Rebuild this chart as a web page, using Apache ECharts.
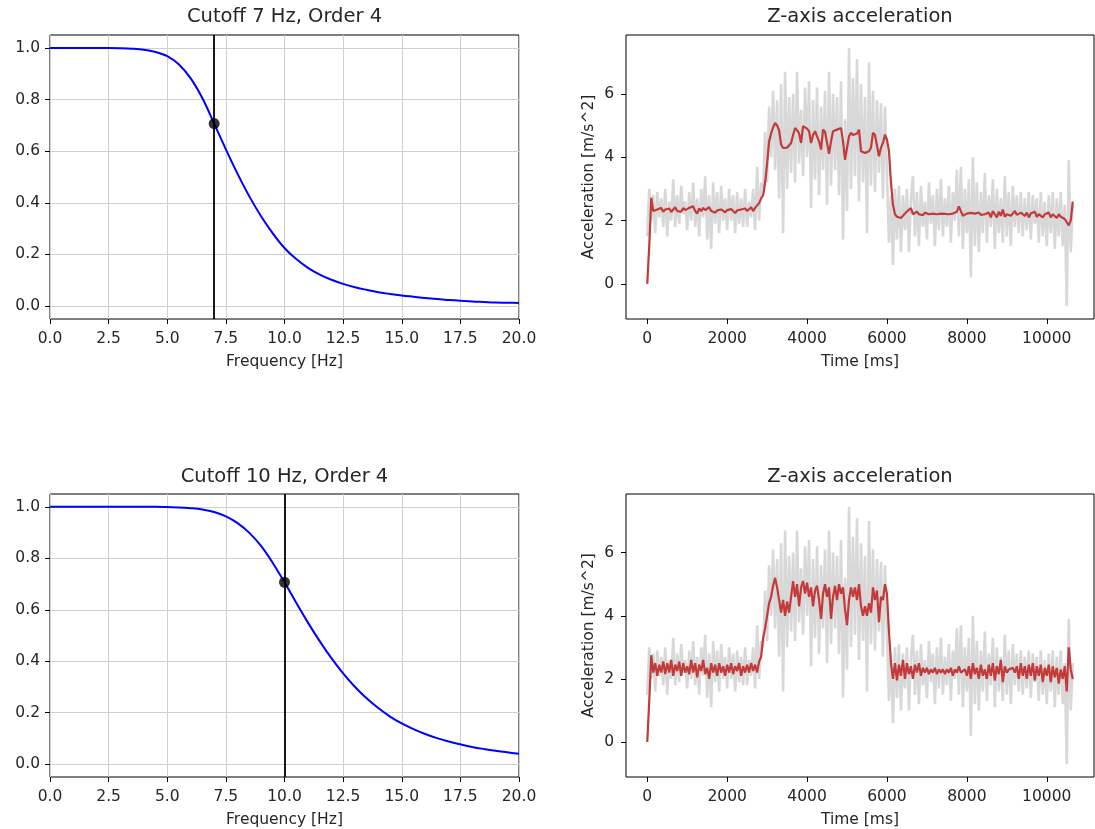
<!DOCTYPE html>
<html>
<head>
<meta charset="utf-8">
<script src="https://cdn.jsdelivr.net/npm/echarts@6/dist/echarts.min.js"></script>
<style>
html,body{margin:0;padding:0;background:#fff;}
#chart{width:1095px;height:829px;}
</style>
</head>
<body>
<div id="chart"></div>
<script>
// ---------- data ----------
const freqHz = [0,0.5,1,1.5,2,2.5,3,3.5,4,4.5,5,5.5,6,6.5,7,7.5,8,8.5,9,9.5,10,10.5,11,11.5,12,12.5,13,13.5,14,14.5,15,15.5,16,16.5,17,17.5,18,18.5,19,19.5,20];
const gainCut7 = [1,1,1,1,1,1,0.999,0.997,0.993,0.984,0.968,0.936,0.882,0.805,0.707,0.607,0.512,0.425,0.348,0.282,0.225,0.182,0.148,0.122,0.102,0.086,0.073,0.063,0.054,0.047,0.041,0.036,0.031,0.027,0.024,0.021,0.018,0.016,0.014,0.013,0.012];
const gainCut10 = [1,1,1,1,1,1,1,1,1,1,0.999,0.998,0.995,0.99,0.98,0.963,0.937,0.899,0.848,0.782,0.707,0.627,0.55,0.478,0.412,0.353,0.301,0.256,0.218,0.185,0.158,0.136,0.117,0.101,0.088,0.077,0.067,0.059,0.052,0.046,0.04];
const cutoffHz = [7, 10];
const cutoffGain = [0.707, 0.707];
const plotTitles = ['Cutoff 7 Hz, Order 4', 'Z-axis acceleration', 'Cutoff 10 Hz, Order 4', 'Z-axis acceleration'];

const TIME_STEP_MS = 50;
const rawAccel = [
1.5,3.0,2.0,2.8,1.6,2.9,2.1,2.7,1.8,3.0,
1.5,2.6,2.0,3.3,1.8,2.8,1.9,3.1,2.2,2.6,
1.7,2.9,2.0,3.2,1.8,2.7,1.5,3.0,2.1,3.4,
1.4,2.8,1.1,3.2,1.9,2.9,1.6,3.1,2.0,2.7,
1.7,3.0,2.0,2.8,1.6,2.9,1.9,2.7,1.8,3.0,
1.8,2.6,2.1,3.0,1.7,3.7,2.0,3.2,3.0,4.8,
3.2,5.6,4.0,6.1,3.6,5.8,2.7,6.3,1.6,6.7,
3.0,5.9,3.5,6.0,3.2,6.7,3.8,5.5,3.4,6.2,
4.0,6.4,2.4,5.8,3.3,6.2,2.8,5.6,3.6,6.1,
2.5,6.7,3.1,6.0,3.6,5.9,2.8,6.4,1.4,5.2,
2.3,7.45,3.0,6.5,3.4,7.1,2.6,6.3,3.2,5.9,
1.6,7.0,3.1,6.1,2.9,5.8,3.5,5.7,2.7,5.6,
5.65,1.3,2.8,0.6,3.0,1.4,3.1,1.0,2.8,1.7,
3.0,1.0,2.7,3.4,1.5,2.9,1.2,3.1,1.8,2.6,
1.4,3.2,1.9,2.8,1.2,3.0,1.7,3.3,1.5,2.7,
1.8,3.1,1.3,2.9,2.0,3.6,1.5,3.7,1.1,3.0,
1.6,3.3,0.2,4.0,1.2,3.2,1.0,2.9,1.6,3.5,
1.3,2.8,1.8,3.3,1.1,3.0,1.6,2.7,1.3,3.4,
1.5,2.9,1.2,3.1,1.8,2.8,1.6,2.9,1.5,2.7,
1.7,2.9,1.4,2.8,1.9,2.7,1.3,2.9,1.5,2.6,
1.2,2.8,1.6,2.9,1.1,2.7,1.5,2.9,1.2,2.5,
-0.7,3.9,1.0,2.5
];
const filtered7 = [
0,1.2,2.72,2.3,2.25,2.35,2.3,2.4,2.28,2.35,
2.3,2.38,2.27,2.35,2.42,2.3,2.36,2.28,2.4,2.33,
2.3,2.4,2.35,2.45,2.3,2.22,2.38,2.3,2.4,2.33,
2.28,2.42,2.3,2.36,2.25,2.32,2.27,2.35,2.3,2.26,
2.33,2.28,2.36,2.3,2.24,2.32,2.28,2.35,2.3,2.38,
2.3,2.36,2.42,2.3,2.4,2.35,2.55,2.7,2.8,3.2,
3.8,4.5,4.75,4.95,5.08,5.0,4.85,4.4,4.29,4.32,
4.3,4.36,4.45,4.7,4.92,4.85,4.75,4.45,4.98,5.03,
4.9,4.82,4.45,4.7,4.82,4.77,4.5,4.24,4.87,4.8,
4.77,4.11,4.5,4.82,4.8,4.87,4.85,4.92,4.5,3.92,
4.3,4.66,4.77,4.7,4.66,4.75,4.87,4.19,4.15,4.13,
4.17,4.19,4.3,4.77,4.7,4.66,4.03,4.3,4.45,4.71,
4.55,4.2,3.2,2.5,2.2,2.12,2.1,2.08,2.15,2.2,
2.29,2.3,2.39,2.2,2.18,2.28,2.2,2.24,2.17,2.25,
2.24,2.2,2.26,2.22,2.25,2.2,2.24,2.22,2.26,2.21,
2.23,2.2,2.25,2.22,2.24,2.28,2.45,2.3,2.15,2.2,
2.22,2.2,2.24,2.18,2.22,2.2,2.25,2.18,2.22,2.2,
2.15,2.25,2.1,2.3,2.2,2.1,2.28,2.15,2.35,2.12,
2.2,2.25,2.15,2.22,2.3,2.18,2.12,2.25,2.2,2.15,
2.25,2.1,2.22,2.18,2.28,2.12,2.2,2.25,2.1,2.2,
2.15,2.25,2.1,2.2,2.15,2.08,2.2,2.12,2.18,2.05,
2.1,1.85,2.0,2.6
];
const filtered10 = [
0,1.3,2.75,2.2,2.5,2.1,2.45,2.2,2.55,2.15,
2.5,2.2,2.6,2.1,2.45,2.25,2.55,2.1,2.5,2.2,
2.4,2.15,2.6,2.2,2.5,2.05,2.45,2.25,2.6,2.15,
2.35,2.0,2.5,2.2,2.45,2.1,2.5,2.2,2.4,2.1,
2.45,2.2,2.5,2.15,2.4,2.25,2.5,2.1,2.4,2.2,
2.45,2.2,2.5,2.25,2.45,2.2,2.55,2.7,3.3,3.6,
4.0,4.4,4.6,4.95,5.2,4.9,4.5,4.1,4.5,4.0,
4.45,4.1,4.6,5.1,4.6,5.0,4.3,4.9,5.1,4.7,
5.05,4.6,4.9,4.3,4.8,4.95,4.5,3.9,4.7,5.0,
4.6,4.9,3.9,4.6,4.95,4.5,5.0,4.7,4.9,4.2,
3.7,4.5,4.9,4.6,4.9,4.5,5.0,4.3,4.0,4.3,
4.0,4.4,4.1,4.9,4.5,4.8,3.8,4.6,4.5,5.0,
4.7,3.5,2.5,2.0,2.5,1.95,2.45,2.1,2.6,2.0,
2.5,2.15,2.4,2.0,2.45,2.2,2.5,2.1,2.35,2.2,
2.35,2.15,2.3,2.2,2.35,2.15,2.3,2.2,2.3,2.15,
2.3,2.2,2.35,2.1,2.3,2.2,2.4,2.2,2.15,2.3,
2.1,2.4,2.0,2.5,2.15,2.35,2.0,2.45,2.1,2.3,
2.0,2.45,2.1,2.5,1.95,2.4,2.15,2.6,1.9,2.4,
2.2,2.3,2.25,2.35,2.2,2.4,2.0,2.5,2.1,2.4,
2.0,2.45,2.1,2.5,1.95,2.4,2.1,2.45,1.9,2.35,
2.1,2.45,1.9,2.4,2.05,2.35,1.85,2.3,2.0,2.4,
1.6,3.0,2.3,2.0
];
const freqTicks = [0,2.5,5,7.5,10,12.5,15,17.5,20];
const gainTicks = [0,0.2,0.4,0.6,0.8,1.0];
const timeTicks = [0,2000,4000,6000,8000,10000];
const accelTicks = [0,2,4,6];

// ---------- build ----------
const timeMs = rawAccel.map((_, i) => i * TIME_STEP_MS);
const pairs = (xs, ys) => xs.map((x, i) => [x, ys[i]]);

const FONT = 'DejaVu Sans';
const TXT = '#262626';
const grids = [
  {left: 50, top: 35, width: 469, height: 284},
  {left: 626, top: 35, width: 468, height: 284},
  {left: 50, top: 494, width: 469, height: 283},
  {left: 626, top: 494, width: 468, height: 283}
].map(g => Object.assign(g, {show: true, borderColor: '#000', borderWidth: 1, containLabel: false}));

function baseAxis(gridIndex, ticks, fmt, margin) {
  return {
    gridIndex,
    type: 'value',
    axisLine: {show: false, onZero: false},
    axisTick: {show: true, length: 5, lineStyle: {color: '#000', width: 1}, customValues: ticks},
    axisLabel: {color: TXT, fontFamily: FONT, fontSize: 15.5, margin: margin, customValues: ticks, formatter: fmt},
    nameTextStyle: {color: TXT, fontFamily: FONT, fontSize: 15.5},
    nameLocation: 'middle'
  };
}
const gridLine = {show: true, lineStyle: {color: '#cfcfcf', width: 1}};
const oneDec = v => v.toFixed(1);
const plain = v => String(v);

const xAxes = [], yAxes = [];
[0, 2].forEach(g => {
  xAxes.push(Object.assign(baseAxis(g, freqTicks, oneDec, 12), {
    min: 0, max: 20, name: 'Frequency [Hz]', nameGap: 35, splitLine: gridLine
  }));
  yAxes.push(Object.assign(baseAxis(g, gainTicks, oneDec, 10), {
    min: -0.05, max: 1.05, splitLine: gridLine
  }));
});
[1, 3].forEach(g => {
  xAxes.push(Object.assign(baseAxis(g, timeTicks, plain, 12), {
    min: -532, max: 11182, name: 'Time [ms]', nameGap: 35, splitLine: {show: false}
  }));
  yAxes.push(Object.assign(baseAxis(g, accelTicks, plain, 12), {
    min: -1.1075, max: 7.8575, name: 'Acceleration [m/s^2]', nameGap: 29, splitLine: {show: false}
  }));
});
// axis order: index0->grid0, index1->grid2, index2->grid1, index3->grid3

function responseSeries(axisIdx, gains, cutoff, gain) {
  return [
    {type: 'line', xAxisIndex: axisIdx, yAxisIndex: axisIdx, data: pairs(freqHz, gains),
     showSymbol: false, smooth: 0.35, z: 3,
     lineStyle: {color: '#0000ff', width: 2}, silent: true,
     markLine: {silent: true, symbol: ['none', 'none'], label: {show: false},
       lineStyle: {color: '#000', width: 1.8, type: 'solid'}, data: [{xAxis: cutoff}]}},
    {type: 'scatter', xAxisIndex: axisIdx, yAxisIndex: axisIdx, data: [[cutoff, gain]],
     symbolSize: 11, itemStyle: {color: '#000'}, z: 5, silent: true}
  ];
}
function accelSeries(axisIdx, filt) {
  return [
    {type: 'line', xAxisIndex: axisIdx, yAxisIndex: axisIdx, data: pairs(timeMs, rawAccel),
     showSymbol: false, lineStyle: {color: '#d8d8d8', width: 2.6}, z: 2, silent: true},
    {type: 'line', xAxisIndex: axisIdx, yAxisIndex: axisIdx, data: pairs(timeMs, filt),
     showSymbol: false, lineStyle: {color: '#c33a3a', width: 2.2}, z: 3, silent: true}
  ];
}

const titlePos = [[284.5, 17], [860, 17], [284.5, 477], [860, 477]];
const option = {
  animation: false,
  backgroundColor: '#fff',
  grid: grids,
  xAxis: xAxes,
  yAxis: yAxes,
  series: [].concat(
    responseSeries(0, gainCut7, cutoffHz[0], cutoffGain[0]),
    responseSeries(1, gainCut10, cutoffHz[1], cutoffGain[1]),
    accelSeries(2, filtered7),
    accelSeries(3, filtered10)
  ),
  graphic: plotTitles.map((t, i) => ({
    type: 'text', x: titlePos[i][0], y: titlePos[i][1], silent: true,
    style: {text: t, align: 'center', verticalAlign: 'middle', fill: TXT, font: '19.5px "DejaVu Sans"'}
  }))
};
const chart = echarts.init(document.getElementById('chart'), null, {renderer: 'canvas'});
chart.setOption(option);
</script>
</body>
</html>
